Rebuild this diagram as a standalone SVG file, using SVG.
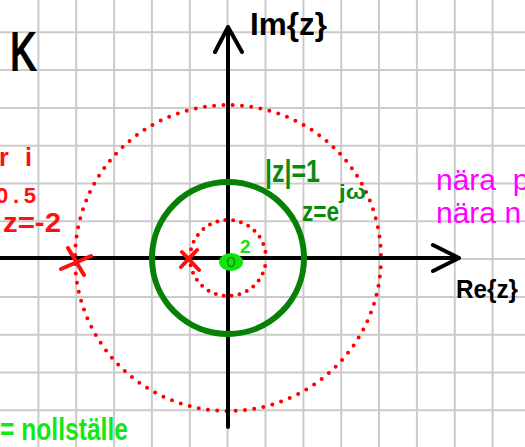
<svg xmlns="http://www.w3.org/2000/svg" width="525" height="447" viewBox="0 0 525 447">
<style>
.grid line{stroke:#cbcbcb;stroke-width:2}
.axis{stroke:#000;stroke-width:4;fill:none;stroke-linecap:round;stroke-linejoin:round}
.dotted{fill:none;stroke:#ff0000;stroke-width:4;stroke-linecap:round}
.cross{stroke:#ff1010;stroke-width:4;stroke-linecap:round}
.hand{font-family:"Liberation Sans","DejaVu Sans",sans-serif}
.b{font-weight:bold}
</style>
<rect width="525" height="447" fill="#fff"/>
<g class="grid" id="grid">
<line x1="38.4" y1="0" x2="38.4" y2="447"/><line x1="76.2" y1="0" x2="76.2" y2="447"/><line x1="114.1" y1="0" x2="114.1" y2="447"/><line x1="151.9" y1="0" x2="151.9" y2="447"/><line x1="189.8" y1="0" x2="189.8" y2="447"/><line x1="227.6" y1="0" x2="227.6" y2="447"/><line x1="265.5" y1="0" x2="265.5" y2="447"/><line x1="303.4" y1="0" x2="303.4" y2="447"/><line x1="341.2" y1="0" x2="341.2" y2="447"/><line x1="379" y1="0" x2="379" y2="447"/><line x1="416.9" y1="0" x2="416.9" y2="447"/><line x1="454.8" y1="0" x2="454.8" y2="447"/><line x1="492.6" y1="0" x2="492.6" y2="447"/>
<line x1="0" y1="32.3" x2="525" y2="32.3"/><line x1="0" y1="70.1" x2="525" y2="70.1"/><line x1="0" y1="107.9" x2="525" y2="107.9"/><line x1="0" y1="145.7" x2="525" y2="145.7"/><line x1="0" y1="183.5" x2="525" y2="183.5"/><line x1="0" y1="221.3" x2="525" y2="221.3"/><line x1="0" y1="259.1" x2="525" y2="259.1"/><line x1="0" y1="296.9" x2="525" y2="296.9"/><line x1="0" y1="334.7" x2="525" y2="334.7"/><line x1="0" y1="372.5" x2="525" y2="372.5"/><line x1="0" y1="410.3" x2="525" y2="410.3"/>
</g>
<g id="circle-r2"><circle class="dotted" cx="228" cy="258" r="153" stroke-dasharray="0 9.3"/></g>
<g id="circle-r05"><circle class="dotted" cx="228" cy="258" r="38" stroke-dasharray="0 8"/></g>
<g id="connectors">
<path class="axis" d="M0 258 H459 M433 245 L459 258 L433 271"/>
<path class="axis" d="M228 427 V27 M215 52 L228 27 L242 52"/>
</g>
<g id="unit-circle"><circle cx="228" cy="258" r="76" fill="none" stroke="#068106" stroke-width="6"/></g>
<g id="pole-minus2"><line class="cross" x1="61" y1="269" x2="91" y2="256"/><line class="cross" x1="68" y1="248" x2="84" y2="275"/></g>
<g id="pole-minus05"><line class="cross" x1="182" y1="252" x2="199" y2="270"/><line class="cross" x1="197" y1="250" x2="181" y2="267"/></g>
<g id="zero">
<ellipse cx="231" cy="262" rx="12" ry="9" fill="#12e412"/>
<ellipse cx="231" cy="262" rx="3.5" ry="4.5" fill="none" stroke="#0a8f0a" stroke-width="1.5"/>
<text class="hand b" x="240" y="253" font-size="19" fill="#12e412">2</text>
</g>
<g id="labels">
<text class="hand" x="10" y="70" font-size="54" textLength="26" lengthAdjust="spacingAndGlyphs" fill="#000" stroke="#000" stroke-width="2">K</text>
<text class="hand b" x="250" y="35" font-size="32" textLength="77" lengthAdjust="spacingAndGlyphs" fill="#000">Im{z}</text>
<text class="hand b" x="456" y="298" font-size="26" textLength="62" lengthAdjust="spacingAndGlyphs" fill="#000">Re{z}</text>
<text class="hand b" x="-1" y="166" font-size="25" textLength="33" lengthAdjust="spacing" fill="#ff1010">r i</text>
<text class="hand b" x="-4" y="203" font-size="22" textLength="40" lengthAdjust="spacing" fill="#ff1010">0.5</text>
<text class="hand b" x="3" y="232" font-size="28" textLength="58" lengthAdjust="spacingAndGlyphs" fill="#ff1010">z=-2</text>
<text class="hand b" x="265" y="182" font-size="31" textLength="55" lengthAdjust="spacingAndGlyphs" fill="#0a8a0a">|z|=1</text>
<text class="hand b" x="302" y="221" font-size="27" fill="#0a8a0a"><tspan textLength="37" lengthAdjust="spacingAndGlyphs">z=e</tspan><tspan x="339" y="199" font-size="21" textLength="27" lengthAdjust="spacingAndGlyphs">jω</tspan></text>
<text class="hand" x="436" y="190" font-size="30" fill="#ff00ff" xml:space="preserve">nära  p</text>
<text class="hand" x="436" y="223" font-size="30" fill="#ff00ff">nära n</text>
<text class="hand b" x="0" y="440" font-size="32" textLength="128" lengthAdjust="spacingAndGlyphs" fill="#14e814">= nollställe</text>
</g>
</svg>
